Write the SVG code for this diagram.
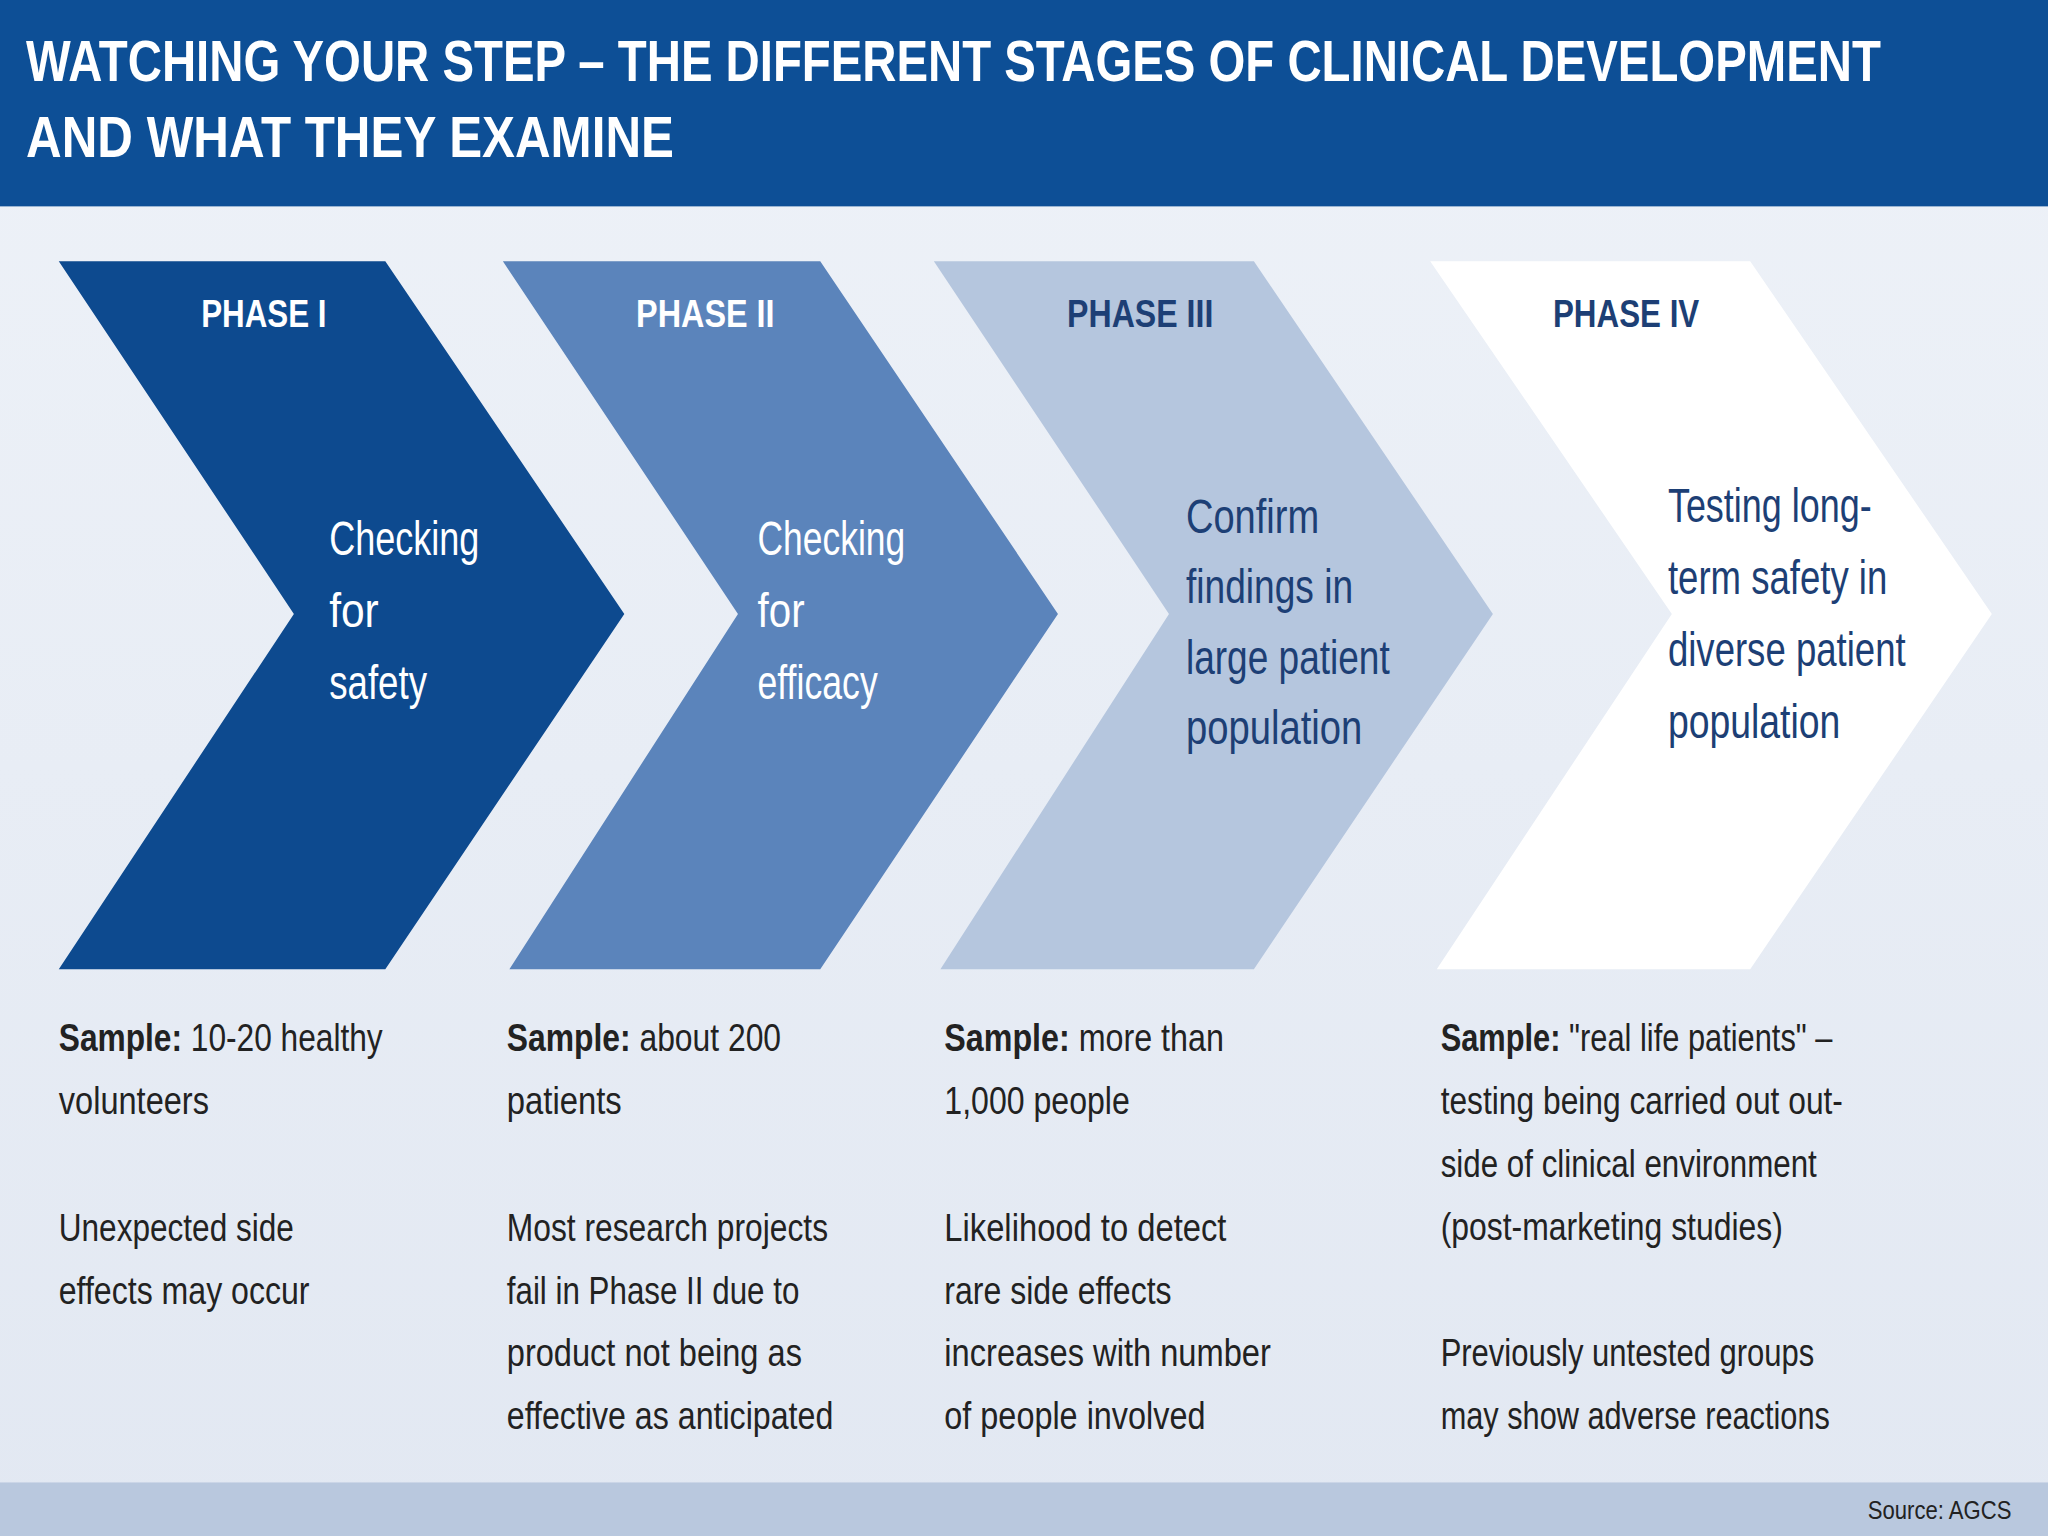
<svg xmlns="http://www.w3.org/2000/svg" width="2048" height="1536" viewBox="0 0 2048 1536">
<defs>
<linearGradient id="bg" x1="0" y1="0" x2="0" y2="1"><stop offset="0" stop-color="#eef2f8"/><stop offset="1" stop-color="#e2e8f2"/></linearGradient>
<style>
.t{font-family:"Liberation Sans",Arial,sans-serif;font-weight:bold;fill:#fff;font-size:44px}
.ph{font-family:"Liberation Sans",Arial,sans-serif;font-weight:bold;font-size:30px;text-anchor:middle}
.b{font-family:"Liberation Sans",Arial,sans-serif;font-size:37px}
.s{font-family:"Liberation Sans",Arial,sans-serif;font-size:29px;fill:#222}
</style>
</defs>
<g transform="scale(1.30612)">
<rect width="1568" height="1176" fill="url(#bg)"/>
<rect width="1568" height="158" fill="#0d4f96"/>
<text class="t" x="20" y="62" textLength="1420" lengthAdjust="spacingAndGlyphs">WATCHING YOUR STEP – THE DIFFERENT STAGES OF CLINICAL DEVELOPMENT</text>
<text class="t" x="20" y="120" textLength="496" lengthAdjust="spacingAndGlyphs">AND WHAT THEY EXAMINE</text>
<g id="phase1">
<polygon points="45,200 295,200 478,470 295,742 45,742 225,470" fill="#0d4a8f"/>
<text class="ph" x="202" y="250" fill="#fff" textLength="96" lengthAdjust="spacingAndGlyphs">PHASE I</text>
<g fill="#fff"><text class="b" x="252" y="425" textLength="115" lengthAdjust="spacingAndGlyphs">Checking</text><text class="b" x="252" y="480" textLength="38" lengthAdjust="spacingAndGlyphs">for</text><text class="b" x="252" y="535" textLength="75" lengthAdjust="spacingAndGlyphs">safety</text></g>
</g>
<g id="phase2">
<polygon points="385,200 628,200 810,470 628,742 390,742 565,470" fill="#5b84bb"/>
<text class="ph" x="540" y="250" fill="#fff" textLength="106" lengthAdjust="spacingAndGlyphs">PHASE II</text>
<g fill="#fff"><text class="b" x="580" y="425" textLength="113" lengthAdjust="spacingAndGlyphs">Checking</text><text class="b" x="580" y="480" textLength="36" lengthAdjust="spacingAndGlyphs">for</text><text class="b" x="580" y="535" textLength="92" lengthAdjust="spacingAndGlyphs">efficacy</text></g>
</g>
<g id="phase3">
<polygon points="715,200 960,200 1143,470 960,742 720,742 895,470" fill="#b5c6de"/>
<text class="ph" x="873" y="250" fill="#1d3f75" textLength="112" lengthAdjust="spacingAndGlyphs">PHASE III</text>
<g fill="#1d3f75"><text class="b" x="908" y="408" textLength="102" lengthAdjust="spacingAndGlyphs">Confirm</text><text class="b" x="908" y="462" textLength="128" lengthAdjust="spacingAndGlyphs">findings in</text><text class="b" x="908" y="516" textLength="156" lengthAdjust="spacingAndGlyphs">large patient</text><text class="b" x="908" y="570" textLength="135" lengthAdjust="spacingAndGlyphs">population</text></g>
</g>
<g id="phase4">
<polygon points="1095,200 1340,200 1525,470 1340,742 1100,742 1280,470" fill="#fff"/>
<text class="ph" x="1245" y="250" fill="#1d3f75" textLength="112" lengthAdjust="spacingAndGlyphs">PHASE IV</text>
<g fill="#1d3f75"><text class="b" x="1277" y="400" textLength="156" lengthAdjust="spacingAndGlyphs">Testing long-</text><text class="b" x="1277" y="455" textLength="168" lengthAdjust="spacingAndGlyphs">term safety in</text><text class="b" x="1277" y="510" textLength="182" lengthAdjust="spacingAndGlyphs">diverse patient</text><text class="b" x="1277" y="565" textLength="132" lengthAdjust="spacingAndGlyphs">population</text></g>
</g>
<g id="notes">
<text class="s" x="45" y="805" textLength="248" lengthAdjust="spacingAndGlyphs"><tspan font-weight="bold">Sample:</tspan> 10-20 healthy</text>
<text class="s" x="45" y="853" textLength="115" lengthAdjust="spacingAndGlyphs">volunteers</text>
<text class="s" x="45" y="950" textLength="180" lengthAdjust="spacingAndGlyphs">Unexpected side</text>
<text class="s" x="45" y="998" textLength="192" lengthAdjust="spacingAndGlyphs">effects may occur</text>
<text class="s" x="388" y="805" textLength="210" lengthAdjust="spacingAndGlyphs"><tspan font-weight="bold">Sample:</tspan> about 200</text>
<text class="s" x="388" y="853" textLength="88" lengthAdjust="spacingAndGlyphs">patients</text>
<text class="s" x="388" y="950" textLength="246" lengthAdjust="spacingAndGlyphs">Most research projects</text>
<text class="s" x="388" y="998" textLength="224" lengthAdjust="spacingAndGlyphs">fail in Phase II due to</text>
<text class="s" x="388" y="1046" textLength="226" lengthAdjust="spacingAndGlyphs">product not being as</text>
<text class="s" x="388" y="1094" textLength="250" lengthAdjust="spacingAndGlyphs">effective as anticipated</text>
<text class="s" x="723" y="805" textLength="214" lengthAdjust="spacingAndGlyphs"><tspan font-weight="bold">Sample:</tspan> more than</text>
<text class="s" x="723" y="853" textLength="142" lengthAdjust="spacingAndGlyphs">1,000 people</text>
<text class="s" x="723" y="950" textLength="216" lengthAdjust="spacingAndGlyphs">Likelihood to detect</text>
<text class="s" x="723" y="998" textLength="174" lengthAdjust="spacingAndGlyphs">rare side effects</text>
<text class="s" x="723" y="1046" textLength="250" lengthAdjust="spacingAndGlyphs">increases with number</text>
<text class="s" x="723" y="1094" textLength="200" lengthAdjust="spacingAndGlyphs">of people involved</text>
<text class="s" x="1103" y="805" textLength="300" lengthAdjust="spacingAndGlyphs"><tspan font-weight="bold">Sample:</tspan> "real life patients" –</text>
<text class="s" x="1103" y="853" textLength="308" lengthAdjust="spacingAndGlyphs">testing being carried out out-</text>
<text class="s" x="1103" y="901" textLength="288" lengthAdjust="spacingAndGlyphs">side of clinical environment</text>
<text class="s" x="1103" y="949" textLength="262" lengthAdjust="spacingAndGlyphs">(post-marketing studies)</text>
<text class="s" x="1103" y="1046" textLength="286" lengthAdjust="spacingAndGlyphs">Previously untested groups</text>
<text class="s" x="1103" y="1094" textLength="298" lengthAdjust="spacingAndGlyphs">may show adverse reactions</text>
</g>
<rect y="1135" width="1568" height="41" fill="#b9c8de"/>
<text x="1540" y="1163" text-anchor="end" font-family="Liberation Sans,Arial,sans-serif" font-size="20" fill="#222" textLength="110" lengthAdjust="spacingAndGlyphs">Source: AGCS</text>
</g>
</svg>
